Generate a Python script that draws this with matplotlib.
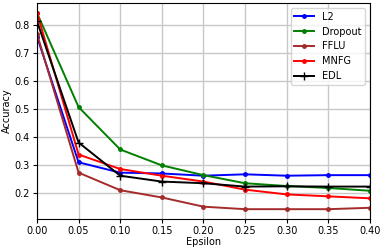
import matplotlib
matplotlib.use("Agg")
import matplotlib.pyplot as plt

# data
epsilon = [0.0, 0.05, 0.10, 0.15, 0.20, 0.25, 0.30, 0.35, 0.40]
l2 = [0.760, 0.309, 0.272, 0.269, 0.261, 0.266, 0.261, 0.263, 0.263]
dropout = [0.845, 0.507, 0.355, 0.298, 0.263, 0.234, 0.224, 0.217, 0.207]
fflu = [0.770, 0.272, 0.209, 0.183, 0.150, 0.141, 0.141, 0.141, 0.146]
mnfg = [0.845, 0.337, 0.285, 0.261, 0.240, 0.211, 0.194, 0.187, 0.180]
edl = [0.815, 0.380, 0.261, 0.240, 0.234, 0.222, 0.223, 0.222, 0.222]

plt.rcParams["font.size"] = 7

fig = plt.figure(figsize=(3.81, 2.5), dpi=100)
ax = fig.add_axes([0.097, 0.124, 0.874, 0.864])

ax.plot(epsilon, l2, color="blue", marker=".", markersize=5, linewidth=1.4, label="L2")
ax.plot(epsilon, dropout, color="green", marker=".", markersize=5, linewidth=1.4, label="Dropout")
ax.plot(epsilon, fflu, color="brown", marker=".", markersize=5, linewidth=1.4, label="FFLU")
ax.plot(epsilon, mnfg, color="red", marker=".", markersize=5, linewidth=1.4, label="MNFG")
ax.plot(epsilon, edl, color="black", marker="+", markersize=6, linewidth=1.4, label="EDL")

ax.set_xlim(0, 0.4)
ax.set_xticks(epsilon)
ax.tick_params(length=3, pad=2)
ax.set_xlabel("Epsilon", labelpad=1)
ax.set_ylabel("Accuracy", labelpad=2)
ax.grid(True, linewidth=1.0, color="#c8c8c8")
ax.legend(loc="upper right", fontsize=7)

fig.savefig("out.png", dpi=100)
